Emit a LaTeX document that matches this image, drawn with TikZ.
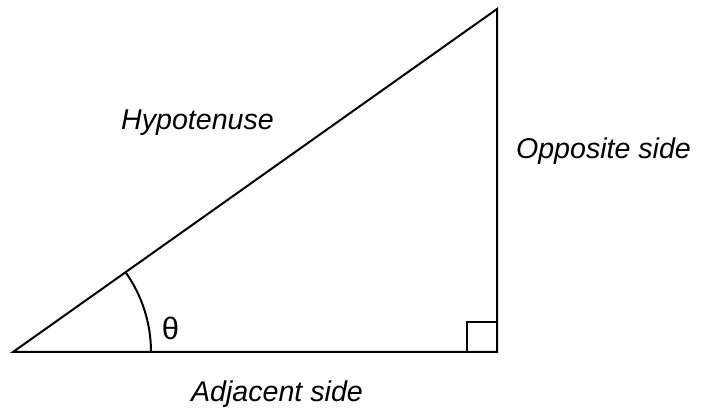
\documentclass[tikz,border=0pt]{standalone}
\usepackage{fontspec}
\setmainfont{Liberation Sans}
\begin{document}
\begin{tikzpicture}[x=0.5pt,y=-0.5pt,line width=1pt,
  lbl/.style={font=\fontsize{14.3}{16}\selectfont\itshape,inner sep=0pt,anchor=base},
  sym/.style={font=\fontsize{15.5}{17}\selectfont,inner sep=0pt,anchor=base}]
\useasboundingbox (0,0) rectangle (701,415);
\coordinate (A) at (13,352);
\coordinate (B) at (497,352);
\coordinate (C) at (497,9);
\draw[line join=miter] (A) -- (B) -- (C) -- cycle;
\draw (B) ++(-30,0) -- ++(0,-30) -- ++(30,0);
\draw ([shift={(0:138)}]A) arc[start angle=0,end angle=-35.3,radius=138];
\node[lbl] (hyp) at (197.5,130) {Hypotenuse};
\node[lbl] (opp) at (603.5,159) {Opposite side};
\node[lbl] (adj) at (277,402) {Adjacent side};
\node[sym] (th) at (170.5,340) {θ};
\end{tikzpicture}
\end{document}
